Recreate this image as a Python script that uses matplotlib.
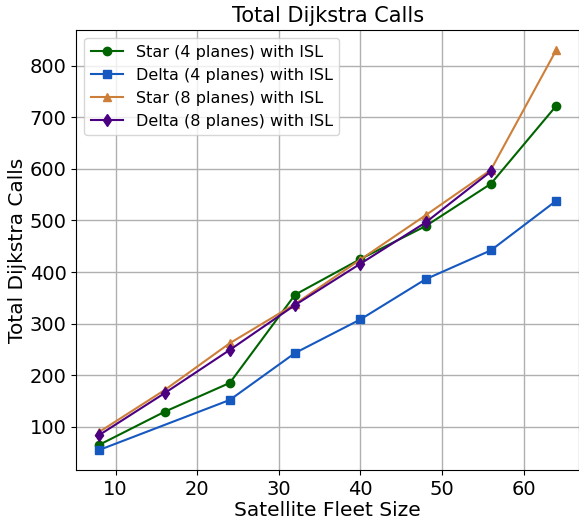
import matplotlib
matplotlib.use("Agg")
import matplotlib.pyplot as plt

sizes = [8, 16, 24, 32, 40, 48, 56, 64]
sizes_delta4 = [8, 24, 32, 40, 48, 56, 64]
sizes_delta8 = [8, 16, 24, 32, 40, 48, 56]

star4 = [65, 129, 185, 356, 425, 489, 571, 722]
delta4 = [55, 152, 243, 308, 386, 442, 538]
star8 = [90, 171, 262, 338, 424, 510, 598, 830]
delta8 = [84, 165, 249, 336, 416, 496, 595]

fig, ax = plt.subplots(figsize=(5.79, 5.21), dpi=100)

ax.plot(sizes, star4, marker='o', color='#006400', label='Star (4 planes) with ISL')
ax.plot(sizes_delta4, delta4, marker='s', color='#1558c0', label='Delta (4 planes) with ISL')
ax.plot(sizes, star8, marker='^', color='#cd7f3a', label='Star (8 planes) with ISL')
ax.plot(sizes_delta8, delta8, marker='d', color='#4b0082', label='Delta (8 planes) with ISL')

ax.set_title('Total Dijkstra Calls', fontsize=15)
ax.set_xlabel('Satellite Fleet Size', fontsize=14.5, labelpad=2)
ax.set_ylabel('Total Dijkstra Calls', fontsize=14.5, labelpad=2)
ax.tick_params(labelsize=14)
ax.grid(True, color='#b0b0b0', linewidth=1)
ax.legend(fontsize=11.5, loc='upper left', labelspacing=0.5)

plt.subplots_adjust(left=0.132, right=1.0, bottom=0.098, top=0.942)
plt.savefig('out.png')
